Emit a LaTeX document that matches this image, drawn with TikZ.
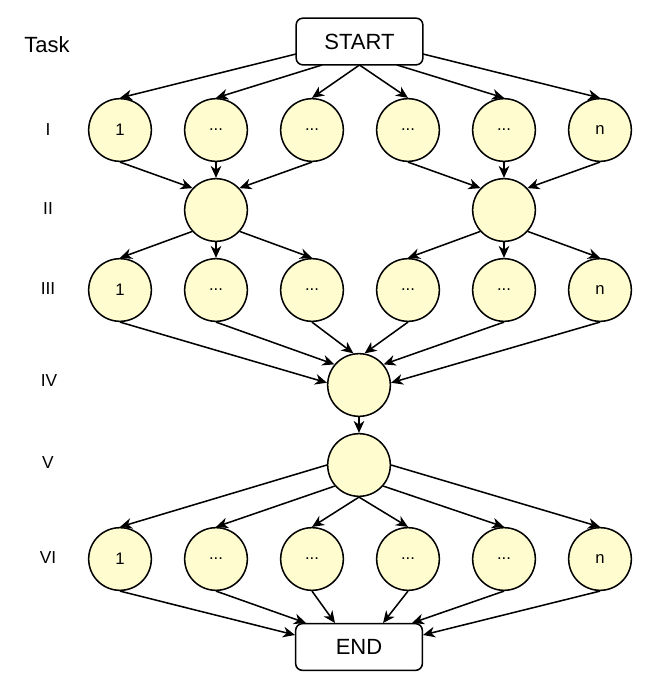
\documentclass[tikz,border=0pt]{standalone}
\usepackage{fontspec}
\setmainfont{Liberation Sans}
\usetikzlibrary{arrows.meta}
\definecolor{cfill}{RGB}{255,253,208}
\tikzset{
  task/.style={circle,draw=black,fill=cfill,line width=1.15pt,minimum size=47pt,inner sep=0pt,font=\fontsize{12.5}{14}\selectfont},
  term/.style={rectangle,rounded corners=5pt,draw=black,fill=white,line width=1.15pt,minimum width=95pt,minimum height=35pt,inner sep=0pt,font=\fontsize{16.5}{19}\selectfont},
  lvl/.style={font=\fontsize{13}{15}\selectfont},
  arr/.style={line width=1.15pt,-{Stealth[length=9pt,width=8pt,inset=2.8pt]}}
}
\begin{document}
\begin{tikzpicture}[x=0.75pt,y=-0.75pt]
\useasboundingbox (0,0) rectangle (664,693);
% labels
\node[font=\fontsize{16.5}{19}\selectfont] (tlab) at (47,45) {Task};
\node[lvl] (l1) at (48,130) {I};
\node[lvl] (l2) at (48,209) {II};
\node[lvl] (l3) at (48,289) {III};
\node[lvl] (l4) at (49,381) {IV};
\node[lvl] (l5) at (48,463) {V};
\node[lvl] (l6) at (48,558) {VI};
% terminals
\node[term] (start) at (359.5,41.5) {START};
\node[term] (end) at (359,647) {END};
% row I
\node[task] (a1) at (120,130) {1};
\node[task] (a2) at (216,130) {...};
\node[task] (a3) at (312,130) {...};
\node[task] (a4) at (408,130) {...};
\node[task] (a5) at (504,130) {...};
\node[task] (a6) at (600,130) {n};
% row II
\node[task] (bL) at (216,210) {};
\node[task] (bR) at (504,210) {};
% row III
\node[task] (c1) at (120,290) {1};
\node[task] (c2) at (216,290) {...};
\node[task] (c3) at (312,290) {...};
\node[task] (c4) at (408,290) {...};
\node[task] (c5) at (504,290) {...};
\node[task] (c6) at (600,290) {n};
% IV, V
\node[task] (d) at (359,385) {};
\node[task] (e) at (359,465) {};
% row VI
\node[task] (f1) at (120,559) {1};
\node[task] (f2) at (216,559) {...};
\node[task] (f3) at (312,559) {...};
\node[task] (f4) at (408,559) {...};
\node[task] (f5) at (504,559) {...};
\node[task] (f6) at (600,559) {n};
% START -> I
\coordinate (sw) at (296,54);
\coordinate (se) at (423,54);
\coordinate (sb2) at (322,65);
\coordinate (sb3) at (359.5,65);
\coordinate (sb5) at (397,65);
\draw[arr] (sw) -- (a1.north);
\draw[arr] (sb2) -- (a2.north);
\draw[arr] (sb3) -- (a3.north);
\draw[arr] (sb3) -- (a4.north);
\draw[arr] (sb5) -- (a5.north);
\draw[arr] (se) -- (a6.north);
% I -> II
\draw[arr] (a1.south) -- (bL.137);
\draw[arr] (a2.south) -- (bL.north);
\draw[arr] (a3.south) -- (bL.43);
\draw[arr] (a4.south) -- (bR.137);
\draw[arr] (a5.south) -- (bR.north);
\draw[arr] (a6.south) -- (bR.43);
% II -> III
\draw[arr] (bL.222) -- (c1.north);
\draw[arr] (bL.south) -- (c2.north);
\draw[arr] (bL.318) -- (c3.north);
\draw[arr] (bR.222) -- (c4.north);
\draw[arr] (bR.south) -- (c5.north);
\draw[arr] (bR.318) -- (c6.north);
% III -> IV
\draw[arr] (c1.south) -- (d.176);
\draw[arr] (c2.south) -- (d.140);
\draw[arr] (c3.south) -- (d.100);
\draw[arr] (c4.south) -- (d.80);
\draw[arr] (c5.south) -- (d.40);
\draw[arr] (c6.south) -- (d.4);
% IV -> V
\draw[arr] (d.south) -- (e.north);
% V -> VI
\draw[arr] (e.west) -- (f1.north);
\draw[arr] (e.221) -- (f2.north);
\draw[arr] (e.south) -- (f3.north);
\draw[arr] (e.south) -- (f4.north);
\draw[arr] (e.319) -- (f5.north);
\draw[arr] (e.east) -- (f6.north);
% VI -> END
\coordinate (ew) at (295,635);
\coordinate (ee) at (423,635);
\coordinate (et2) at (306,623);
\coordinate (et3) at (335,623);
\coordinate (et4) at (383,623);
\coordinate (et5) at (412,623);
\draw[arr] (f1.south) -- (ew);
\draw[arr] (f2.south) -- (et2);
\draw[arr] (f3.south) -- (et3);
\draw[arr] (f4.south) -- (et4);
\draw[arr] (f5.south) -- (et5);
\draw[arr] (f6.south) -- (ee);
\end{tikzpicture}
\end{document}
